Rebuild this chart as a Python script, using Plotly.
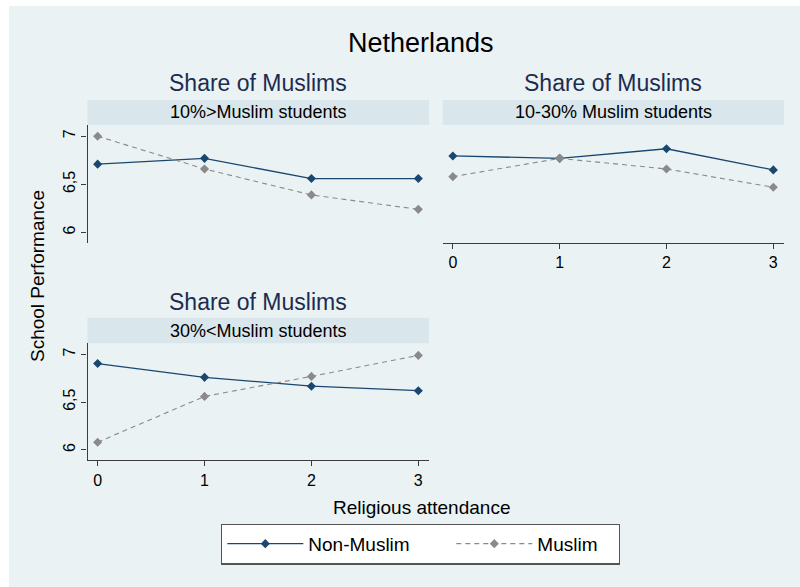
import plotly.graph_objects as go

W, H = 800, 587

attendance = [0, 1, 2, 3]
panel_titles = ["10%>Muslim students", "10-30% Muslim students", "30%<Muslim students"]
non_muslim = [
    [6.71, 6.77, 6.56, 6.56],
    [6.795, 6.77, 6.87, 6.65],
    [6.905, 6.76, 6.667, 6.62],
]
muslim = [
    [7.0, 6.66, 6.39, 6.24],
    [6.58, 6.77, 6.66, 6.47],
    [6.08, 6.56, 6.77, 6.99],
]
y_tickvals = [6, 6.5, 7]
y_ticktext = ["6", "6,5", "7"]
x_tickvals = [0, 1, 2, 3]

BG = "#eaf2f3"
STRIP = "#d9e6eb"
NAVY = "#1a476f"
GRAY = "#8a8a8a"
AXIS = "#3c3c3c"
FONT = "Liberation Sans, Arial, sans-serif"

def px_x(p):
    return p / W

def px_y(p):
    return 1 - p / H

# panel geometry in pixels: (left, right, top, bottom, strip_top, title_y)
panels = [
    (87.5, 429.0, 125.0, 243.0, 100.0, 83.0),
    (442.7, 784.0, 125.0, 243.0, 100.0, 83.0),
    (87.5, 429.0, 343.3, 460.3, 317.7, 301.7),
]

fig = go.Figure()

for i in range(3):
    ax = "" if i == 0 else str(i + 1)
    fig.add_trace(go.Scatter(
        x=attendance, y=non_muslim[i], mode="lines+markers",
        name="Non-Muslim", legendgroup="nm", showlegend=(i == 0), legendwidth=138,
        line=dict(color=NAVY, width=1.3),
        marker=dict(symbol="diamond", size=7, color=NAVY),
        xaxis="x" + ax, yaxis="y" + ax,
    ))
    fig.add_trace(go.Scatter(
        x=attendance, y=muslim[i], mode="lines+markers",
        name="Muslim", legendgroup="m", showlegend=(i == 0), legendwidth=76,
        line=dict(color=GRAY, width=1.1, dash="5px,4px"),
        marker=dict(symbol="diamond", size=7, color=GRAY),
        xaxis="x" + ax, yaxis="y" + ax,
    ))

shapes = [dict(type="rect", xref="paper", yref="paper",
               x0=px_x(9), x1=1, y0=0, y1=px_y(6),
               fillcolor=BG, line=dict(width=0), layer="below")]
annotations = [dict(text="Netherlands", x=px_x(421), y=px_y(43), xref="paper", yref="paper",
                    showarrow=False, font=dict(size=27, color="#000000", family=FONT),
                    xanchor="center", yanchor="middle")]

layout_axes = {}
for i, (l, r, t, b, st, ty) in enumerate(panels):
    ax = "" if i == 0 else str(i + 1)
    show_x = i != 0
    show_y = i != 1
    layout_axes["xaxis" + ax] = dict(
        domain=[px_x(l), px_x(r)], range=[-0.095, 3.1], anchor="y" + ax,
        tickvals=x_tickvals, showticklabels=show_x, ticks="outside" if show_x else "",
        ticklen=5, tickcolor=AXIS, showline=show_x, linecolor=AXIS, linewidth=1.3,
        showgrid=False, zeroline=False, tickfont=dict(size=16, color="#000000", family=FONT),
        fixedrange=True,
    )
    layout_axes["yaxis" + ax] = dict(
        domain=[px_y(b), px_y(t)], range=[5.89, 7.117], anchor="x" + ax,
        tickvals=y_tickvals, ticktext=y_ticktext, showticklabels=show_y,
        ticks="outside" if show_y else "", ticklen=5, tickcolor=AXIS, tickangle=-90,
        showline=show_y, linecolor=AXIS, linewidth=1.3,
        showgrid=True, gridcolor=BG, gridwidth=1.2, zeroline=False,
        tickfont=dict(size=16, color="#000000", family=FONT), fixedrange=True,
    )
    shapes.append(dict(type="rect", xref="paper", yref="paper",
                       x0=px_x(l), x1=px_x(r), y0=px_y(t), y1=px_y(st),
                       fillcolor=STRIP, line=dict(width=0), layer="below"))
    annotations.append(dict(text=panel_titles[i], x=px_x((l + r) / 2), y=px_y((st + t) / 2),
                            xref="paper", yref="paper", showarrow=False,
                            font=dict(size=18, color="#000000", family=FONT),
                            xanchor="center", yanchor="middle"))
    annotations.append(dict(text="Share of Muslims", x=px_x((l + r) / 2), y=px_y(ty),
                            xref="paper", yref="paper", showarrow=False,
                            font=dict(size=23, color="#1c2c50", family=FONT),
                            xanchor="center", yanchor="middle"))

annotations.append(dict(text="School Performance", x=px_x(38), y=px_y(276), xref="paper", yref="paper",
                        showarrow=False, textangle=-90,
                        font=dict(size=19, color="#000000", family=FONT),
                        xanchor="center", yanchor="middle"))
annotations.append(dict(text="Religious attendance", x=px_x(421), y=px_y(507), xref="paper", yref="paper",
                        showarrow=False, font=dict(size=19, color="#000000", family=FONT),
                        xanchor="center", yanchor="middle"))

fig.update_layout(
    width=W, height=H, margin=dict(l=0, r=0, t=0, b=0),
    paper_bgcolor="#ffffff", plot_bgcolor="#ffffff",
    shapes=shapes, annotations=annotations,
    legend=dict(orientation="h", x=px_x(420.5), y=px_y(544), xanchor="center", yanchor="middle",
                bgcolor="#ffffff", bordercolor="#555555", borderwidth=1.3,
                font=dict(size=19, color="#000000", family=FONT),
                itemwidth=76, traceorder="normal"),
    **layout_axes,
)

fig.write_html("out.html")
